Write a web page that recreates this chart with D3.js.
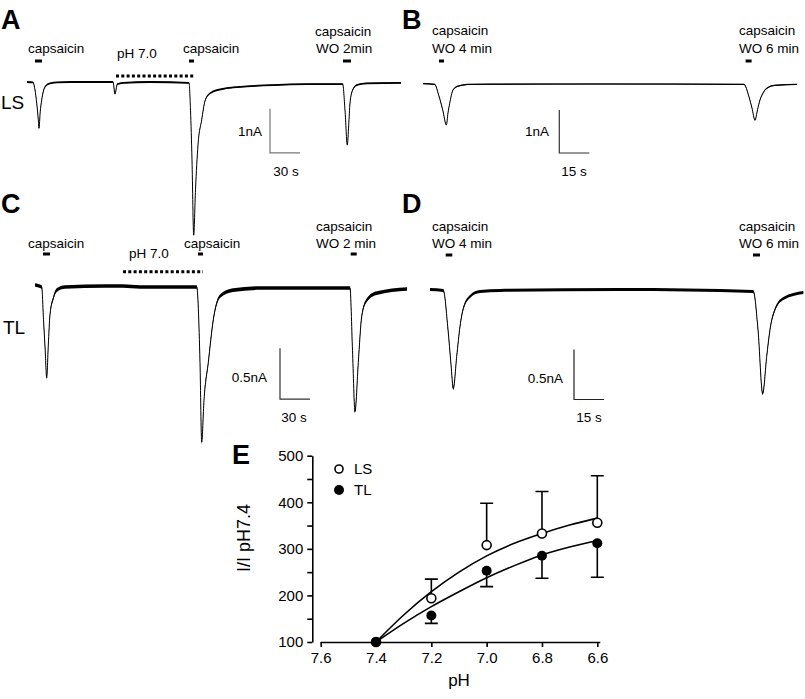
<!DOCTYPE html>
<html><head><meta charset="utf-8">
<script src="https://cdn.jsdelivr.net/npm/d3@7/dist/d3.min.js"></script>
<style>
body{margin:0;background:#fff}
text{font-family:"Liberation Sans",Arial,Helvetica,sans-serif;fill:#000}
</style>
</head><body>
<svg id="fig" width="805" height="699"></svg>
<script>
// ---------------- DATA (time in s, current in nA) ----------------
const traceA = [[0,0],[6,-0.01],[8,-0.18],[9.7,-0.48],[11.3,-0.86],[12,-1.05],[13.2,-0.68],[14.7,-0.41],[18,-0.11],[23,-0.03],[30,-0.01],[58,0],[86,0],[88,-0.27],[90.3,-0.05],[96,-0.02],[123,0],[162,-0.02],[163.5,-0.64],[165,-1.77],[166.7,-3.48],[168.5,-2.45],[171,-1.43],[174.7,-0.86],[178,-0.43],[183,-0.26],[193,-0.17],[220,-0.10],[246,-0.07],[280,-0.05],[315.7,-0.05],[318,-0.64],[320.3,-1.43],[321.7,-0.98],[323,-0.48],[325.7,-0.18],[329.7,-0.07],[339.7,-0.03],[374,-0.02]];
const traceB = [[0,0.01],[5.85,-0.01],[7.85,-0.26],[9.85,-0.6],[11.7,-0.95],[12.5,-0.67],[13.35,-0.45],[15,-0.14],[17.5,-0.05],[23.5,-0.01],[88.5,0],[160.5,-0.01],[163,-0.3],[164.5,-0.56],[166,-0.84],[167.25,-0.6],[168.5,-0.37],[170,-0.21],[171.85,-0.1],[176,-0.03],[187,-0.01]];
const traceC = [[0,0.01],[6.7,-0.01],[8.5,-0.33],[10.2,-0.63],[11.7,-0.9],[13.3,-0.58],[15,-0.28],[18.3,-0.12],[21.7,-0.04],[30,-0.01],[70,0],[88,0],[105,-0.01],[161.7,-0.01],[165,-0.75],[166.7,-1.53],[169,-1.12],[173.3,-0.75],[178.3,-0.33],[185,-0.1],[198,-0.04],[225,-0.02],[315,-0.02],[317.5,-0.63],[320,-1.23],[323.3,-0.75],[326.7,-0.3],[331.7,-0.14],[341.7,-0.07],[372,-0.03]];
const traceD = [[0,0],[6.65,-0.01],[9,-0.4],[10.5,-0.75],[11.65,-0.99],[13.35,-0.67],[15,-0.37],[16.65,-0.19],[20,-0.07],[25,-0.02],[35,-0.01],[95,0],[161.65,-0.02],[164,-0.4],[166.35,-1.04],[168.35,-0.67],[170,-0.4],[172.5,-0.2],[176.65,-0.09],[186.65,-0.03]];

// capsaicin application bars [start, end] (s) and pH 7.0 periods
const capsA = [[8,15],[162,167],[316,324]];
const capsB = [[8,10.5],[161.3,164.3]];
const capsC = [[8,15],[163,168],[315.7,321.7]];
const capsD = [[7.85,11.15],[161.5,165]];
const phA = [[89,168]];
const phC = [[88,168]];

// scale bars: [time (s), current of top (nA), dI (nA), dt (s)]
const scaleBarA = [243, -0.61, 1, 30];
const scaleBarB = [68.15, -0.605, 1, 15];
const scaleBarC = [245, -0.61, 0.5, 30];
const scaleBarD = [72, -0.6, 0.5, 15];
const scaleLabelsA = ["1nA","30 s"], scaleLabelsB = ["1nA","15 s"], scaleLabelsC = ["0.5nA","30 s"], scaleLabelsD = ["0.5nA","15 s"];

// Panel E
const pHValues = [7.4, 7.2, 7.0, 6.8, 6.6];
const lsMean = [100, 194, 308, 333, 356];
const lsErrUp = [0, 41, 90, 90, 101];
const tlMean = [100, 157, 253, 285, 312];
const tlErrDown = [0, 17, 34, 48, 73];
const pHFit = [7.4, 7.3, 7.2, 7.1, 7.0, 6.9, 6.8, 6.7, 6.6];
const lsFit = [100, 158, 208, 250, 285, 312, 333, 351, 366];
const tlFit = [100, 140, 176, 208, 238, 264, 287, 304, 318];
const xTicksE = [7.6, 7.4, 7.2, 7.0, 6.8, 6.6];
const yTicksE = [100,150,200,250,300,350,400,450,500];

// ---------------- LAYOUT ----------------
const svg = d3.select("#fig");
const panels = [
  {trace:traceA, caps:capsA, ph:phA, sb:scaleBarA, sbl:scaleLabelsA, x0:27, pps:1, y0:82, ppn:44, noise:0.9, capsY:61, phY:76, sbColor:"#777",
   sbText:[[262,136],[286,176]],
   labels:[{x:28,y:53,t:"capsaicin"},{x:117,y:58,t:"pH 7.0"},{x:183,y:53,t:"capsaicin"},{x:315,y:36,t:"capsaicin"},{x:316,y:53,t:"WO 2min"}]},
  {trace:traceB, caps:capsB, ph:[], sb:scaleBarB, sbl:scaleLabelsB, x0:423, pps:2, y0:84, ppn:43, noise:0.6, capsY:61, sbColor:"#333",
   sbText:[[549,136],[574,176]],
   labels:[{x:432,y:35,t:"capsaicin"},{x:432,y:53,t:"WO 4 min"},{x:739,y:35,t:"capsaicin"},{x:739,y:53,t:"WO 6 min"}]},
  {trace:traceC, caps:capsC, ph:phC, sb:scaleBarC, sbl:scaleLabelsC, x0:35, pps:1, y0:286, ppn:102, noise:1.8, capsY:254, phY:271.7, sbColor:"#333",
   sbText:[[267,382],[294,422]],
   labels:[{x:28,y:248,t:"capsaicin"},{x:129,y:258,t:"pH 7.0"},{x:184,y:248,t:"capsaicin"},{x:316,y:231,t:"capsaicin"},{x:316,y:248,t:"WO 2 min"}]},
  {trace:traceD, caps:capsD, ph:[], sb:scaleBarD, sbl:scaleLabelsD, x0:430, pps:2, y0:289.5, ppn:100, noise:1.5, capsY:255, sbColor:"#222",
   sbText:[[563,383],[589,422]],
   labels:[{x:432,y:231,t:"capsaicin"},{x:432,y:248,t:"WO 4 min"},{x:739,y:231,t:"capsaicin"},{x:739,y:248,t:"WO 6 min"}]}
];

panels.forEach(p => {
  const x = d3.scaleLinear().domain([0, 1]).range([p.x0, p.x0 + p.pps]);
  const y = d3.scaleLinear().domain([0, -1]).range([p.y0, p.y0 + p.ppn]);
  const g = svg.append("g");
  const band = d3.area().x(d => x(d[0])).y0(d => y(d[1]) - p.noise).y1(d => y(d[1]) + p.noise).curve(d3.curveMonotoneX);
  const line = d3.line().x(d => x(d[0])).y(d => y(d[1])).curve(d3.curveMonotoneX);
  g.append("path").datum(p.trace).attr("d", band).attr("fill", "#000");
  g.append("path").datum(p.trace).attr("d", line).attr("fill", "none").attr("stroke", "#000").attr("stroke-width", 1);
  g.selectAll(".cap").data(p.caps).join("line")
    .attr("x1", d => x(d[0])).attr("x2", d => x(d[1]))
    .attr("y1", p.capsY).attr("y2", p.capsY)
    .attr("stroke", "#000").attr("stroke-width", 3);
  g.selectAll(".ph").data(p.ph).join("line")
    .attr("x1", d => x(d[0])).attr("x2", d => x(d[1]))
    .attr("y1", p.phY).attr("y2", p.phY)
    .attr("stroke", "#000").attr("stroke-width", 3).attr("stroke-dasharray", "3,2.3");
  const [st, sI, dI, dt] = p.sb;
  g.append("path")
    .attr("d", `M${x(st)},${y(sI)}V${y(sI - dI)}H${x(st + dt)}`)
    .attr("fill", "none").attr("stroke", p.sbColor).attr("stroke-width", 1.2);
  g.append("text").attr("x", p.sbText[0][0]).attr("y", p.sbText[0][1]).attr("text-anchor", "end")
    .attr("font-size", 13.5).text(p.sbl[0]);
  g.append("text").attr("x", p.sbText[1][0]).attr("y", p.sbText[1][1]).attr("text-anchor", "middle")
    .attr("font-size", 13.5).text(p.sbl[1]);
  g.selectAll(".lbl").data(p.labels).join("text")
    .attr("x", d => d.x).attr("y", d => d.y).attr("font-size", 13.5).text(d => d.t);
});

// panel letters and row labels
const letters = [["A",1,29],["B",402,29],["C",1,213],["D",402,213],["E",232,464]];
svg.selectAll(".letter").data(letters).join("text")
  .attr("x", d => d[1]).attr("y", d => d[2]).attr("font-size", 27).attr("font-weight", "bold").text(d => d[0]);
svg.append("text").attr("x", 1).attr("y", 109).attr("font-size", 19).text("LS");
svg.append("text").attr("x", 3).attr("y", 334).attr("font-size", 19).text("TL");

// ---------------- PANEL E ----------------
const xE = d3.scaleLinear().domain([7.6, 6.6]).range([320.7, 597.3]);
const yE = d3.scaleLinear().domain([100, 500]).range([642, 455.7]);
const gE = svg.append("g");

const xAxis = gE.append("g").attr("transform", "translate(0,642)")
  .call(d3.axisBottom(xE).tickValues(xTicksE).tickFormat(d3.format(".1f")).tickSize(5).tickSizeOuter(0).tickPadding(5));
xAxis.select(".domain").attr("d", `M${xE(7.6)},0.5H${xE(6.6) + 3}`);
const yAxis = gE.append("g").attr("transform", "translate(312.3,0)")
  .call(d3.axisLeft(yE).tickValues(yTicksE).tickFormat(d => d % 100 === 0 ? d : "").tickSize(5).tickSizeOuter(0).tickPadding(4));
gE.selectAll(".tick text").attr("font-size", 15).attr("font-family", '"Liberation Sans",Arial,sans-serif');
gE.selectAll(".domain, .tick line").attr("stroke", "#000").attr("stroke-width", 1.6);

gE.append("text").attr("x", 459).attr("y", 686).attr("text-anchor", "middle").attr("font-size", 17).text("pH");
gE.append("text").attr("transform", "translate(250,538) rotate(-90)").attr("text-anchor", "middle").attr("font-size", 18).text("I/I pH7.4");

// fits
const fitLine = d3.line().x(d => xE(d[0])).y(d => yE(d[1])).curve(d3.curveMonotoneX);
gE.append("path").datum(pHFit.map((v, i) => [v, lsFit[i]])).attr("d", fitLine).attr("fill", "none").attr("stroke", "#000").attr("stroke-width", 1.6);
gE.append("path").datum(pHFit.map((v, i) => [v, tlFit[i]])).attr("d", fitLine).attr("fill", "none").attr("stroke", "#000").attr("stroke-width", 1.6);

// error bars
const lsData = pHValues.map((v, i) => ({x: v, m: lsMean[i], e: lsMean[i] + lsErrUp[i]}));
const tlData = pHValues.map((v, i) => ({x: v, m: tlMean[i], e: tlMean[i] - tlErrDown[i]}));
[lsData, tlData].forEach(ds => {
  const eg = gE.append("g").attr("stroke", "#000").attr("stroke-width", 1.6).attr("fill", "none");
  eg.selectAll("path").data(ds.filter(d => d.e !== d.m)).join("path")
    .attr("d", d => `M${xE(d.x)},${yE(d.m)}V${yE(d.e)}M${xE(d.x) - 6.5},${yE(d.e)}H${xE(d.x) + 6.5}`);
});
gE.selectAll(".ls").data(lsData).join("circle").attr("cx", d => xE(d.x)).attr("cy", d => yE(d.m)).attr("r", 4.5)
  .attr("fill", "#fff").attr("stroke", "#000").attr("stroke-width", 1.6);
gE.selectAll(".tl").data(tlData).join("circle").attr("cx", d => xE(d.x)).attr("cy", d => yE(d.m)).attr("r", 5)
  .attr("fill", "#000");

// legend
gE.append("circle").attr("cx", 339).attr("cy", 469).attr("r", 4).attr("fill", "#fff").attr("stroke", "#000").attr("stroke-width", 1.6);
gE.append("text").attr("x", 354).attr("y", 474).attr("font-size", 15).text("LS");
gE.append("circle").attr("cx", 339).attr("cy", 490).attr("r", 5).attr("fill", "#000");
gE.append("text").attr("x", 354).attr("y", 495).attr("font-size", 15).text("TL");
</script>
</body></html>
